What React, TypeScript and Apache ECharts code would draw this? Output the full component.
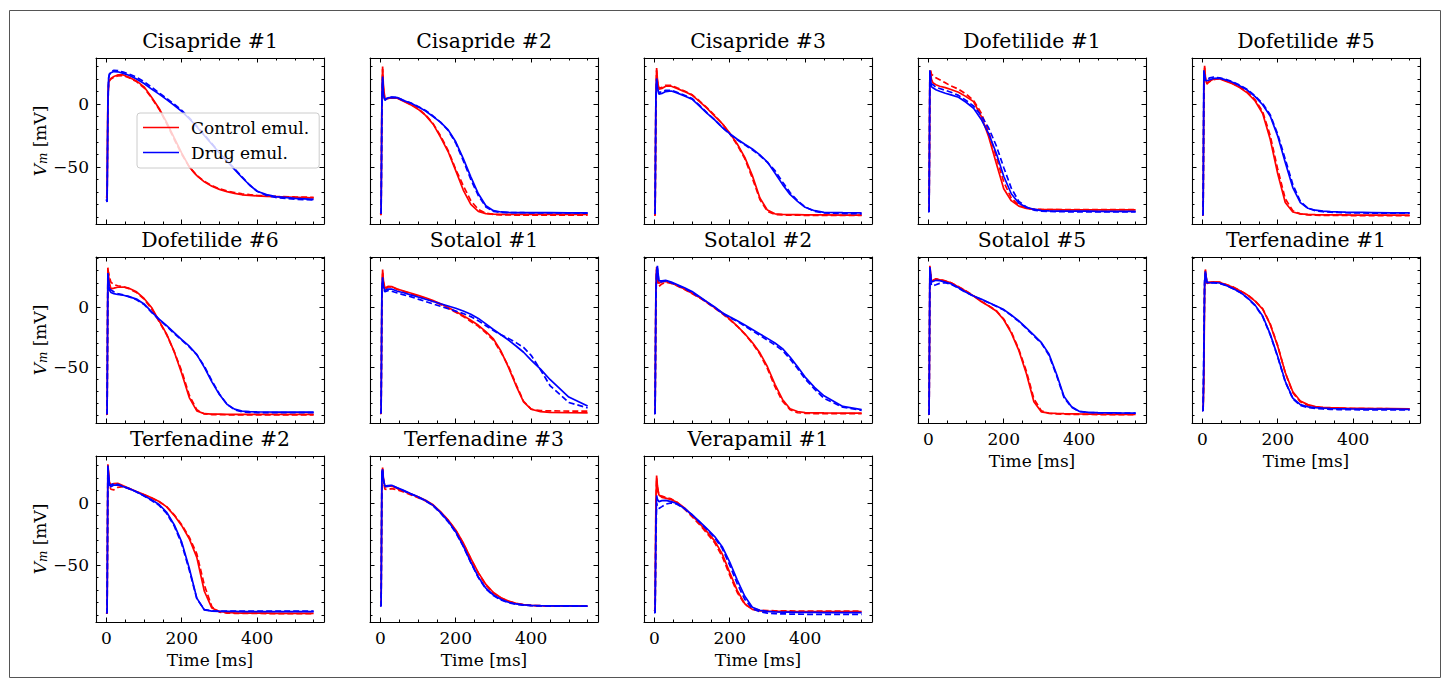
import React, { useEffect, useRef } from 'react';
import * as echarts from 'echarts';

// time grid [ms]
const T = [0, 2, 4, 6, 8, 12, 20, 30, 45, 60, 80, 100, 120, 140, 160, 180, 200, 220, 240, 260, 280, 300, 320, 340, 360, 380, 400, 425, 450, 500, 550];

// Cisapride #1
const CIS1_CTRL = [-74, -75, 5, 17, 19, 20.5, 22, 23.3, 23.3, 21.5, 18.5, 13.8, 5.5, -3.5, -14.5, -27, -39, -50, -57, -62, -65.5, -68, -69.8, -71.2, -72.3, -72.8, -73.2, -73.5, -73.8, -74.3, -74.8];
const CIS1_CTRL_DATA = [-73, -74, 0, 16, 18.5, 20, 21.5, 22.5, 22.8, 21, 18, 13, 5, -4, -15.5, -28, -40, -50, -57, -61.5, -65, -67.5, -69.3, -70.5, -71.5, -72.2, -72.8, -73.2, -73.6, -74, -74.3];
const CIS1_DRUG = [-76, -77.5, 0, 21, 23.5, 25, 26, 25.8, 24.5, 23, 20, 16.5, 12, 8, 3.6, -1, -5.8, -11.5, -18, -25, -32, -39, -45.5, -52, -58.5, -64.5, -69.5, -72.2, -73.8, -75.2, -76];
const CIS1_DRUG_DATA = [-76, -78, -5, 20, 24, 26, 27, 26.8, 25.5, 24, 21.5, 18, 13.5, 9, 4.5, 0, -5, -11, -17.5, -24.5, -31.5, -38.5, -45, -51.5, -58, -64.5, -69.5, -72.8, -74.5, -75.8, -76.5];

// Cisapride #2
const CIS2_CTRL = [-88, -87, 5, 30, 15, 4, 4.5, 5, 4.8, 2.5, -0.4, -4, -9, -16, -26.5, -38, -53, -68.5, -80, -85.5, -87.3, -87.8, -88, -88, -88, -88, -88, -88, -88, -88, -88];
const CIS2_CTRL_DATA = [-88.5, -88, 0, 28, 13, 3.5, 4.5, 5.2, 5, 2.8, 0, -3.5, -8.5, -15.5, -25.5, -37, -52, -65, -77, -84, -87, -88, -88.3, -88.4, -88.5, -88.5, -88.5, -88.5, -88.5, -88.6, -88.6];
const CIS2_DRUG = [-87, -87, 0, 22, 8, 3, 5, 5.4, 5.2, 3, 0.9, -2, -5.5, -10, -14.5, -20.5, -30, -43.5, -58, -71.5, -81, -85, -86, -86.3, -86.5, -86.5, -86.5, -86.6, -86.6, -86.7, -86.8];
const CIS2_DRUG_DATA = [-87, -87, -5, 20, 7, 3.5, 5.2, 5.6, 5.3, 3.2, 1, -1.8, -5, -9.5, -14.5, -21, -31, -45, -60, -73, -82, -85.5, -86.3, -86.5, -86.6, -86.6, -86.7, -86.7, -86.8, -86.8, -86.9];

// Cisapride #3
const CIS3_CTRL = [-88.5, -88.6, 5, 28.8, 20, 12, 12.5, 14.3, 14.3, 12.5, 10, 7.2, 2, -3.4, -9.5, -15.5, -23, -31.8, -42.5, -57, -74.8, -84.5, -87.5, -88, -88.1, -88.2, -88.3, -88.4, -88.4, -88.5, -88.6];
const CIS3_CTRL_DATA = [-88.5, -88.6, 0, 27, 18, 12.5, 13.5, 15, 15, 13, 10.5, 7.5, 2.5, -3, -9, -15.5, -23.5, -32.5, -43.5, -59, -76, -85.5, -88, -88.4, -88.5, -88.6, -88.7, -88.7, -88.8, -88.8, -88.8];
const CIS3_DRUG = [-87, -87, 5, 20.5, 14, 8, 8.5, 10, 10.5, 9, 6.5, 4, -1.5, -7.4, -12.5, -18.5, -23.5, -28, -32, -35.8, -40.5, -46.2, -55, -64, -72, -77.5, -82.3, -85, -86.3, -86.6, -86.8];
const CIS3_DRUG_DATA = [-87, -87.5, 0, 19, 13, 9, 10, 11, 11, 9.5, 7, 4.5, -1, -7, -12.5, -18.5, -23.8, -28.5, -32.5, -36.5, -41, -46.5, -53, -62, -70.5, -77, -82, -85.5, -86.8, -87.2, -87.5];

// Dofetilide #1
const DOF1_CTRL = [-85, -85, 25, 26, 20, 17, 15.5, 14.3, 13.2, 11.7, 9.5, 6, 2, -9.5, -26, -47, -67.5, -77, -81.3, -83.2, -83.9, -84.1, -84.2, -84.2, -84.3, -84.3, -84.3, -84.3, -84.4, -84.4, -84.4];
const DOF1_CTRL_DATA = [-85, -85, 28, 27, 24, 23, 21, 19.5, 17, 14.5, 12, 8, 3, -7, -22, -42, -62, -75, -80.5, -83, -83.8, -84, -84.1, -84.2, -84.2, -84.2, -84.2, -84.2, -84.2, -84.2, -84.2];
const DOF1_DRUG = [-85.5, -86, 27, 20, 14, 13, 11.5, 10.3, 8.7, 7.4, 5.5, 1.5, -3.3, -12, -23.5, -39, -57.5, -71.5, -79, -82.3, -83.8, -84.9, -85.2, -85.3, -85.3, -85.4, -85.4, -85.4, -85.5, -85.5, -85.5];
const DOF1_DRUG_DATA = [-85.5, -86, 26, 21, 16, 15.5, 13.5, 12.5, 11, 9.5, 7, 3, -1.5, -9, -19, -33, -50.5, -67, -77.5, -82, -84.5, -85.3, -85.6, -85.8, -85.8, -85.9, -85.9, -86, -86, -86, -86];

// Dofetilide #5
const DOF5_CTRL = [-88.5, -88.6, 10, 30.5, 22, 16, 18.5, 20, 20.2, 18.5, 16.2, 13, 8.8, 2.5, -7.5, -28, -55.5, -78.5, -86, -87.5, -88, -88.2, -88.3, -88.3, -88.4, -88.4, -88.5, -88.5, -88.5, -88.6, -88.6];
const DOF5_CTRL_DATA = [-88.5, -88.6, 5, 29, 19, 17, 18, 19.5, 20.5, 19, 16.5, 13.5, 9.5, 3.5, -6, -25, -52, -75.5, -85, -87.5, -88.3, -88.6, -88.7, -88.8, -88.8, -88.8, -88.9, -88.9, -88.9, -89, -89];
const DOF5_DRUG = [-88, -88.5, 27, 22, 19, 18.7, 19.5, 20.5, 20.7, 19.5, 17.5, 14.5, 11, 6, -0.5, -9.5, -25.5, -46.5, -66.5, -78.5, -83, -84.6, -85.3, -85.7, -86, -86.2, -86.3, -86.4, -86.5, -86.7, -86.8];
const DOF5_DRUG_DATA = [-88, -88.5, 25, 23, 20, 19.5, 21, 21.5, 21, 20, 18, 15, 11.5, 6.5, 0.5, -8.5, -24, -44, -64, -77.5, -83, -85, -85.8, -86.2, -86.4, -86.6, -86.7, -86.8, -86.9, -87, -87];

// Dofetilide #6
const DOF6_CTRL = [-88.5, -88.9, 32.5, 26, 20, 15, 15.5, 16.3, 16.5, 15.5, 12.5, 7, -0.5, -11.5, -22.5, -37, -55, -75, -86, -88.3, -88.6, -88.7, -88.8, -88.8, -88.8, -88.9, -88.9, -88.9, -88.9, -88.9, -88.9];
const DOF6_CTRL_DATA = [-88.5, -89, 30, 28, 25, 20.5, 18.5, 17.5, 16.8, 15, 12, 6.5, -1.5, -12, -23, -37, -53, -73, -85, -88.5, -89, -89.1, -89.2, -89.2, -89.2, -89.2, -89.2, -89.2, -89.2, -89.2, -89.2];
const DOF6_DRUG = [-88, -88.5, 28, 20, 14, 12, 11, 10.3, 9.7, 8.5, 6.5, 2.5, -4, -10, -15.5, -21.3, -27, -32.5, -39.5, -50, -62, -72.5, -80.5, -84.5, -86.2, -86.6, -86.8, -86.9, -87, -87, -87];
const DOF6_DRUG_DATA = [-88, -88.5, 26, 21, 15, 14, 12.5, 11, 10, 8.5, 6, 2, -4.5, -10.5, -16, -22, -27.5, -33, -39.5, -49, -61, -72, -80.5, -85, -86.8, -87.2, -87.4, -87.5, -87.5, -87.5, -87.5];

// Sotalol #1
const SOT1_CTRL = [-87.5, -87.6, 10, 31, 22, 15.5, 17, 16.8, 14.8, 13.4, 11.5, 9.6, 7.6, 5.2, 2.6, -0.5, -3.7, -7.2, -11, -15.2, -20.5, -26.5, -36.5, -50, -65, -78.5, -84.6, -86.6, -87.2, -87.5, -87.6];
const SOT1_CTRL_DATA = [-88, -88.5, 5, 29, 20, 14.5, 16.5, 16.5, 14.5, 13, 11, 9, 7, 4.5, 2, -1, -4.5, -8, -12, -16, -21.5, -27.5, -37.5, -49, -64, -78, -84.5, -85.8, -86, -86.1, -86.2];
const SOT1_DRUG = [-87, -87.5, 15, 24.5, 17, 13.5, 14.8, 14.8, 13, 11.9, 10, 8.2, 6.4, 4.5, 2.6, 0.8, -1.1, -3.4, -6, -9.5, -14, -18.7, -23, -27.4, -32.3, -37.5, -44, -51.5, -60, -74.5, -82];
const SOT1_DRUG_DATA = [-87.5, -88, 10, 22, 15, 12.5, 13.5, 13, 11.5, 10.2, 8.5, 6.5, 4.5, 2.5, 0.5, -1.5, -3.5, -5.5, -8, -11.5, -15.5, -19.5, -23, -26, -29.5, -33.5, -40, -52, -65, -79, -83.5];

// Sotalol #2
const SOT2_CTRL = [-87.5, -87.8, 15, 33, 24, 19.5, 21, 21, 19.8, 17.8, 14.8, 11.4, 7.8, 3.8, -0.6, -4.8, -10, -15.8, -22.2, -29.5, -38, -49.5, -64, -76.5, -84.2, -86.5, -87.4, -87.6, -87.7, -87.8, -87.8];
const SOT2_CTRL_DATA = [-88, -88, 10, 31, 22, 17, 19, 20.5, 19.5, 17.5, 14.5, 11, 7.5, 3.5, -1, -5.5, -10.5, -16, -22.5, -30, -39, -51, -66, -78, -85, -87.5, -88, -88.2, -88.3, -88.3, -88.3];
const SOT2_DRUG = [-88, -88, 10, 30, 34, 21.5, 21.5, 22, 20.5, 18.5, 15.8, 12.8, 8.5, 4.2, 0, -4.8, -8.2, -11.4, -14.9, -18.6, -22.3, -26, -29.8, -34.5, -41.4, -49.5, -58, -66.5, -73.5, -82.3, -85];
const SOT2_DRUG_DATA = [-88, -88.5, 5, 28, 32, 20.5, 20.8, 21.5, 20, 18, 15.2, 12, 8, 3.8, -0.5, -5.3, -8.8, -12, -15.8, -19.8, -23.5, -27.5, -31.5, -36, -43, -51, -59.5, -68, -75.5, -83, -85.5];

// Sotalol #5
const SOT5_CTRL = [-88.5, -88.9, 34, 28, 21.5, 22, 23.2, 22.5, 21.3, 20, 16.5, 13, 9, 4.5, 0.8, -3.3, -10.6, -21.5, -36, -55, -78.5, -86.8, -87.8, -88.1, -88.3, -88.4, -88.5, -88.6, -88.7, -88.8, -88.9];
const SOT5_CTRL_DATA = [-88.5, -88.9, 32, 27, 21, 21.5, 23, 22.8, 21.5, 20, 16.8, 13.2, 9.2, 4.8, 1, -3, -10, -20.5, -35, -53, -76, -86, -88, -88.5, -88.7, -88.8, -88.9, -88.9, -89, -89, -89];
const SOT5_DRUG = [-88.5, -88.8, 33, 27, 21, 21, 22, 21.8, 20.5, 19.2, 15.8, 12.2, 9, 6.5, 3.7, 0.8, -2.2, -6.7, -11.5, -17.3, -23.3, -29.5, -39, -55.5, -74, -82.5, -86.3, -87.2, -87.5, -87.7, -87.8];
const SOT5_DRUG_DATA = [-88.5, -88.8, 30, 24, 18, 17.5, 18.3, 19.5, 20, 18.8, 15.5, 12, 8.8, 6.3, 3.5, 0.5, -2.5, -7, -12, -17.8, -24, -30, -40, -56.5, -75, -83, -86.5, -87.3, -87.6, -87.8, -87.9];

// Terfenadine #1
const TER1_CTRL = [-85.5, -85.6, -60, 15, 31, 20, 20.5, 20.8, 20.4, 18.8, 16.5, 13.3, 9.8, 4.8, -1.8, -14.5, -32.5, -54.2, -70.2, -77.8, -80.8, -82.4, -83, -83.3, -83.5, -83.7, -83.8, -83.9, -84, -84.1, -84.2];
const TER1_CTRL_DATA = [-85.5, -85.6, -50, 18, 30, 19.5, 20, 20.5, 20.5, 19, 16.8, 13.5, 10, 5, -1.5, -14, -32, -54.5, -71, -78.5, -81.5, -82.8, -83.3, -83.6, -83.8, -83.9, -84, -84, -84.1, -84.2, -84.2];
const TER1_DRUG = [-85.5, -86, -40, 20, 29.5, 20.5, 20, 20.2, 19.8, 18.2, 15.5, 12.2, 7.5, 1.5, -7.5, -22.5, -41, -61.5, -75.5, -80.8, -82.6, -83.3, -83.7, -84, -84.2, -84.3, -84.4, -84.5, -84.5, -84.6, -84.7];
const TER1_DRUG_DATA = [-85.5, -86, -30, 22, 28, 20, 19.8, 19.8, 19.5, 18, 15.2, 12, 7.2, 1, -8, -23, -41.5, -62, -76, -81.5, -83.2, -84, -84.4, -84.7, -84.9, -85, -85, -85.1, -85.1, -85.2, -85.2];

// Terfenadine #2
const TER2_CTRL = [-88, -88.8, 31, 24, 17, 14.5, 15.5, 15.8, 13.7, 11.8, 9.2, 6.7, 4.2, 1.2, -3.2, -10, -18.3, -28.8, -43.8, -71, -84.5, -87.2, -88, -88.3, -88.5, -88.5, -88.6, -88.6, -88.7, -88.7, -88.8];
const TER2_CTRL_DATA = [-88, -88.8, 30, 22, 14, 11, 10.5, 12.5, 13, 11.5, 9, 6.5, 4, 1, -3, -9.5, -17.5, -27.5, -41, -66, -83.5, -87.8, -88.5, -88.7, -88.8, -88.8, -88.8, -88.9, -88.9, -88.9, -88.9];
const TER2_DRUG = [-88, -88.5, 30, 22, 15, 13, 14.3, 14.5, 13, 11.5, 9, 5.8, 2.5, -1.3, -7.5, -17.5, -31.5, -52.5, -76.5, -86, -86.9, -87.1, -87.2, -87.2, -87.3, -87.3, -87.3, -87.3, -87.4, -87.4, -87.4];
const TER2_DRUG_DATA = [-88, -88.5, 28, 20, 14, 14.5, 15.5, 15, 13.2, 11.5, 8.8, 5.5, 2, -2, -8.5, -18.5, -33, -54, -77, -85.8, -86.7, -86.9, -87, -87, -87, -87, -87, -87, -87, -87, -87];

// Terfenadine #3
const TER3_CTRL = [-82, -82.5, 20, 28.5, 20, 13, 13.3, 13.6, 11.5, 9.8, 7.3, 4.9, 2.2, -1.5, -7.2, -13.8, -21.8, -32.2, -44.5, -56, -65.5, -72, -76.2, -78.8, -80.7, -81.7, -82.3, -82.6, -82.7, -82.8, -82.9];
const TER3_CTRL_DATA = [-82, -82.5, 15, 27, 18, 11, 10.8, 11.5, 10.5, 9, 6.5, 4.2, 1.5, -2, -7.5, -14, -22, -32.5, -45, -56.5, -66, -72.5, -76.5, -79, -80.8, -81.8, -82.4, -82.7, -82.8, -82.9, -83];
const TER3_DRUG = [-82.5, -83, 25, 27, 19, 13.5, 14, 14.2, 12.2, 10.3, 7.6, 5, 2, -2, -7.8, -14.8, -23.2, -34.5, -47.5, -59.5, -68.5, -74, -77.5, -79.8, -81.2, -82, -82.4, -82.6, -82.7, -82.8, -82.9];
const TER3_DRUG_DATA = [-82.5, -83, 22, 26, 18, 13, 13.5, 14, 12, 10, 7.2, 4.6, 1.6, -2.4, -8.2, -15.2, -23.8, -35, -48, -60, -69, -74.5, -78, -80.2, -81.5, -82.2, -82.6, -82.8, -82.9, -83, -83];

// Verapamil #1
const VER1_CTRL = [-86, -87, 0, 22, 14, 6.5, 4.5, 3.8, 2.5, 0.5, -4, -10, -16.5, -23.3, -30.5, -41, -56, -70.5, -81, -85.5, -86.7, -87, -87.2, -87.2, -87.3, -87.3, -87.3, -87.4, -87.4, -87.4, -87.4];
const VER1_CTRL_DATA = [-86, -87, -5, 20, 12, 6, 5.5, 4.5, 3.2, 0.5, -5, -11, -17.5, -24.5, -32, -43, -58, -72, -81.5, -85.2, -86.2, -86.5, -86.7, -86.8, -86.8, -86.9, -86.9, -86.9, -87, -87, -87];
const VER1_DRUG = [-87.5, -88, -20, 6, 3, 1, 1.8, 2, 1, -0.5, -4.5, -9.5, -15, -20.8, -27, -35.2, -47.5, -62, -75, -83.8, -86.3, -87.2, -87.5, -87.7, -87.8, -87.9, -88, -88, -88.1, -88.1, -88.2];
const VER1_DRUG_DATA = [-88, -88.5, -30, 0, -3, -4.5, -3, -1, 0, -1, -4.5, -9.5, -15.5, -21.5, -28, -36.5, -50, -65, -77.5, -85, -87.5, -88.5, -89, -89.2, -89.3, -89.4, -89.5, -89.5, -89.6, -89.6, -89.6];

const TITLES = ['Cisapride #1', 'Cisapride #2', 'Cisapride #3', 'Dofetilide #1', 'Dofetilide #5', 'Dofetilide #6', 'Sotalol #1', 'Sotalol #2', 'Sotalol #5', 'Terfenadine #1', 'Terfenadine #2', 'Terfenadine #3', 'Verapamil #1'];
const CTRL = [CIS1_CTRL, CIS2_CTRL, CIS3_CTRL, DOF1_CTRL, DOF5_CTRL, DOF6_CTRL, SOT1_CTRL, SOT2_CTRL, SOT5_CTRL, TER1_CTRL, TER2_CTRL, TER3_CTRL, VER1_CTRL];
const CTRL_DATA = [CIS1_CTRL_DATA, CIS2_CTRL_DATA, CIS3_CTRL_DATA, DOF1_CTRL_DATA, DOF5_CTRL_DATA, DOF6_CTRL_DATA, SOT1_CTRL_DATA, SOT2_CTRL_DATA, SOT5_CTRL_DATA, TER1_CTRL_DATA, TER2_CTRL_DATA, TER3_CTRL_DATA, VER1_CTRL_DATA];
const DRUG = [CIS1_DRUG, CIS2_DRUG, CIS3_DRUG, DOF1_DRUG, DOF5_DRUG, DOF6_DRUG, SOT1_DRUG, SOT2_DRUG, SOT5_DRUG, TER1_DRUG, TER2_DRUG, TER3_DRUG, VER1_DRUG];
const DRUG_DATA = [CIS1_DRUG_DATA, CIS2_DRUG_DATA, CIS3_DRUG_DATA, DOF1_DRUG_DATA, DOF5_DRUG_DATA, DOF6_DRUG_DATA, SOT1_DRUG_DATA, SOT2_DRUG_DATA, SOT5_DRUG_DATA, TER1_DRUG_DATA, TER2_DRUG_DATA, TER3_DRUG_DATA, VER1_DRUG_DATA];

const X_MAJOR = [0, 200, 400];
const X_MINOR = [50, 100, 150, 250, 300, 350, 450, 500, 550];
const Y_MAJOR = [-50, 0];
const Y_MINOR = [-90, -80, -70, -60, -40, -30, -20, -10, 10, 20, 30, 40];
const X_LIM = [-27.5, 577.5];
const Y_LIM = [[-95.6, 36.8], [-96.0, 41.3], [-95.7, 37.7]];

// layout
const COL_LEFT = [96, 370, 644, 918, 1192];
const ROW_TOP = [58, 257, 456];
const PW = 228;
const PH = 166;
const FONT = "'DejaVu Serif', serif";
const RED = '#ff0000';
const BLUE = '#0000ff';

function fmtY(v: number) {
  return v < 0 ? '\u2212' + Math.abs(v) : String(v);
}

function buildOption() {
  const grid: any[] = [];
  const xAxis: any[] = [];
  const yAxis: any[] = [];
  const series: any[] = [];
  const title: any[] = [];

  TITLES.forEach((name, g) => {
    const row = Math.floor(g / 5);
    const col = g % 5;
    const left = COL_LEFT[col];
    const top = ROW_TOP[row];
    const yl = Y_LIM[row];
    const showX = row === 2 || (row === 1 && col >= 3);
    const showY = col === 0;
    grid.push({ left, top, width: PW, height: PH, containLabel: false });
    title.push({
      text: name,
      left: left + PW / 2,
      top: top - 27,
      textAlign: 'center',
      padding: 0,
      textStyle: { fontFamily: FONT, fontSize: 20.4, fontWeight: 'normal', color: '#000' },
    });
    const lineStyle = { color: '#000', width: 1.1 };
    const tickStyle = { color: '#000', width: 1 };
    const xCommon = { gridIndex: g, type: 'value', min: X_LIM[0], max: X_LIM[1], splitLine: { show: false } };
    const yCommon = { gridIndex: g, type: 'value', min: yl[0], max: yl[1], splitLine: { show: false } };
    const yMinor = Y_MINOR.filter((v) => v > yl[0] && v < yl[1]);
    xAxis.push(
      {
        ...xCommon,
        position: 'bottom',
        axisLine: { show: true, onZero: false, lineStyle },
        axisTick: { show: true, inside: true, length: 4.5, customValues: X_MAJOR, lineStyle: tickStyle },
        axisLabel: { show: showX, customValues: X_MAJOR, margin: 7, color: '#000', fontFamily: FONT, fontSize: 17 },
        name: showX ? 'Time [ms]' : '',
        nameLocation: 'middle',
        nameGap: 29,
        nameTextStyle: { fontFamily: FONT, fontSize: 17, color: '#000' },
      },
      {
        ...xCommon,
        position: 'bottom',
        axisLine: { show: false, onZero: false },
        axisTick: { show: true, inside: true, length: 2.5, customValues: X_MINOR, lineStyle: tickStyle },
        axisLabel: { show: false },
      },
      {
        ...xCommon,
        position: 'top',
        axisLine: { show: true, onZero: false, lineStyle },
        axisTick: { show: true, inside: true, length: 4.5, customValues: X_MAJOR, lineStyle: tickStyle },
        axisLabel: { show: false },
      },
      {
        ...xCommon,
        position: 'top',
        axisLine: { show: false, onZero: false },
        axisTick: { show: true, inside: true, length: 2.5, customValues: X_MINOR, lineStyle: tickStyle },
        axisLabel: { show: false },
      }
    );
    yAxis.push(
      {
        ...yCommon,
        position: 'left',
        axisLine: { show: true, onZero: false, lineStyle },
        axisTick: { show: true, inside: true, length: 4.5, customValues: Y_MAJOR, lineStyle: tickStyle },
        axisLabel: { show: showY, customValues: Y_MAJOR, margin: 7, color: '#000', fontFamily: FONT, fontSize: 17, formatter: fmtY },
        name: showY ? '{v|V}{m|m} [mV]' : '',
        nameLocation: 'middle',
        nameGap: 46,
        nameRotate: 90,
        nameTextStyle: {
          fontFamily: FONT,
          fontSize: 17,
          color: '#000',
          rich: {
            v: { fontFamily: FONT, fontSize: 17, fontStyle: 'italic', color: '#000' },
            m: { fontFamily: FONT, fontSize: 12, fontStyle: 'italic', color: '#000', verticalAlign: 'bottom', padding: [6, 0, 0, 0] },
          },
        },
      },
      {
        ...yCommon,
        position: 'left',
        axisLine: { show: false, onZero: false },
        axisTick: { show: true, inside: true, length: 2.5, customValues: yMinor, lineStyle: tickStyle },
        axisLabel: { show: false },
      },
      {
        ...yCommon,
        position: 'right',
        axisLine: { show: true, onZero: false, lineStyle },
        axisTick: { show: true, inside: true, length: 4.5, customValues: Y_MAJOR, lineStyle: tickStyle },
        axisLabel: { show: false },
      },
      {
        ...yCommon,
        position: 'right',
        axisLine: { show: false, onZero: false },
        axisTick: { show: true, inside: true, length: 2.5, customValues: yMinor, lineStyle: tickStyle },
        axisLabel: { show: false },
      }
    );
    const mk = (nm: string, arr: number[], color: string, dashed: boolean) => ({
      type: 'line',
      name: nm,
      xAxisIndex: 4 * g,
      yAxisIndex: 4 * g,
      data: T.map((t, i) => [t, arr[i]]),
      symbol: 'none',
      showSymbol: false,
      smooth: false,
      silent: true,
      clip: true,
      color,
      itemStyle: { color },
      lineStyle: { color, width: 1.7, type: dashed ? [6, 3] : 'solid' },
    });
    series.push(
      mk('Control emul.', CTRL[g], RED, false),
      mk('Control data', CTRL_DATA[g], RED, true),
      mk('Drug emul.', DRUG[g], BLUE, false),
      mk('Drug data', DRUG_DATA[g], BLUE, true)
    );
  });

  return {
    animation: false,
    backgroundColor: '#ffffff',
    title,
    grid,
    xAxis,
    yAxis,
    series,
    legend: {
      data: [
        { name: 'Control emul.', icon: 'rect', itemStyle: { color: RED } },
        { name: 'Drug emul.', icon: 'rect', itemStyle: { color: BLUE } },
      ],
      orient: 'vertical',
      left: 137,
      top: 113,
      padding: [6, 10, 7, 6],
      itemWidth: 36,
      itemHeight: 1.7,
      itemGap: 8,
      backgroundColor: 'rgba(255,255,255,0.8)',
      borderColor: '#cccccc',
      borderWidth: 1,
      borderRadius: 3,
      selectedMode: false,
      textStyle: { fontFamily: FONT, fontSize: 17, color: '#000', padding: [0, 0, 0, 7], lineHeight: 17 },
    },
    graphic: [
      {
        type: 'rect',
        silent: true,
        shape: { x: 9.5, y: 10.5, width: 1431, height: 667 },
        style: { fill: 'none', stroke: '#555555', lineWidth: 1 },
      },
    ],
  };
}

export default function App() {
  const ref = useRef<HTMLDivElement>(null);
  useEffect(() => {
    if (!ref.current) return;
    const chart = echarts.init(ref.current, null, { renderer: 'svg' });
    chart.setOption(buildOption() as any);
    return () => chart.dispose();
  }, []);
  return (
    <div
      ref={ref}
      style={{ position: 'absolute', left: 0, top: 0, width: 1448, height: 687, background: '#fff' }}
    />
  );
}
